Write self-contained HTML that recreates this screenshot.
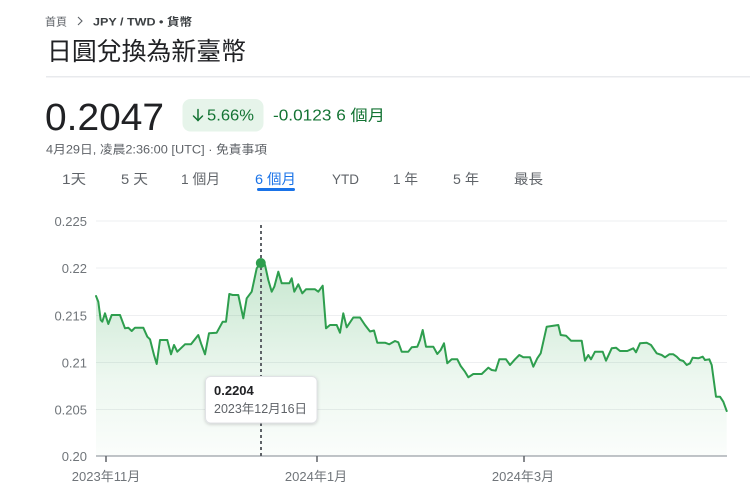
<!DOCTYPE html>
<html>
<head>
<meta charset="utf-8">
<style>
html,body{margin:0;padding:0;background:#fff;}
svg{display:block;}
text{font-family:"Liberation Sans","Noto Sans CJK TC",sans-serif;}
</style>
</head>
<body>
<svg width="750" height="500" viewBox="0 0 750 500" xmlns="http://www.w3.org/2000/svg">
  <defs>
    <linearGradient id="fg" x1="0" y1="262" x2="0" y2="456" gradientUnits="userSpaceOnUse">
      <stop offset="0" stop-color="#34a853" stop-opacity="0.28"/>
      <stop offset="0.6" stop-color="#34a853" stop-opacity="0.09"/>
      <stop offset="1" stop-color="#34a853" stop-opacity="0.02"/>
    </linearGradient>
    <filter id="sh" x="-20%" y="-30%" width="140%" height="170%">
      <feDropShadow dx="0" dy="1" stdDeviation="1.5" flood-color="#000" flood-opacity="0.18"/>
    </filter>
  </defs>

  <!-- breadcrumb -->
  <text x="45" y="25.5" font-size="11" fill="#5f6368">首頁</text>
  <polyline points="78,17 82,21 78,25" fill="none" stroke="#5f6368" stroke-width="1.1"/>
  <text x="93" y="25.5" font-size="11" fill="#3c4043" font-weight="bold" textLength="99" lengthAdjust="spacingAndGlyphs">JPY / TWD • 貨幣</text>

  <!-- title -->
  <text x="47" y="60" font-size="25" fill="#202124" textLength="199" lengthAdjust="spacingAndGlyphs">日圓兌換為新臺幣</text>

  <!-- divider -->
  <rect x="46" y="76" width="704" height="1.5" fill="#e8eaed"/>

  <!-- price -->
  <text x="45" y="130" font-size="38" fill="#202124" textLength="119" lengthAdjust="spacingAndGlyphs">0.2047</text>

  <!-- badge -->
  <rect x="182.5" y="99" width="81" height="32.5" rx="8" fill="#e6f4ea"/>
  <g stroke="#137333" stroke-width="1.5" fill="none" stroke-linecap="round">
    <line x1="198" y1="109.5" x2="198" y2="120.5"/>
    <polyline points="193.5,116 198,120.5 202.5,116"/>
  </g>
  <text x="207" y="120.7" font-size="15.5" fill="#137333" textLength="47" lengthAdjust="spacingAndGlyphs">5.66%</text>
  <text x="273" y="120.7" font-size="15.5" fill="#137333" textLength="112" lengthAdjust="spacingAndGlyphs">-0.0123 6 個月</text>

  <!-- timestamp -->
  <text x="46" y="153.5" font-size="12" fill="#5f6368" textLength="221" lengthAdjust="spacingAndGlyphs">4月29日, 凌晨2:36:00 [UTC] · 免責事項</text>

  <!-- tabs -->
  <g font-size="14" fill="#5f6368">
    <text x="62" y="184" textLength="24" lengthAdjust="spacingAndGlyphs">1天</text>
    <text x="121" y="184" textLength="27" lengthAdjust="spacingAndGlyphs">5 天</text>
    <text x="181" y="184" textLength="39" lengthAdjust="spacingAndGlyphs">1 個月</text>
    <text x="255" y="184" fill="#1a73e8" textLength="41" lengthAdjust="spacingAndGlyphs">6 個月</text>
    <text x="332" y="184" textLength="27" lengthAdjust="spacingAndGlyphs">YTD</text>
    <text x="393" y="184" textLength="25" lengthAdjust="spacingAndGlyphs">1 年</text>
    <text x="453" y="184" textLength="26" lengthAdjust="spacingAndGlyphs">5 年</text>
    <text x="514" y="184" textLength="29" lengthAdjust="spacingAndGlyphs">最長</text>
  </g>
  <rect x="257" y="188" width="38" height="3" rx="1.5" fill="#1a73e8"/>

  <!-- gridlines -->
  <g stroke="#eeeff1" stroke-width="1">
    <line x1="96" y1="221" x2="727" y2="221"/>
    <line x1="96" y1="268" x2="727" y2="268"/>
    <line x1="96" y1="315.5" x2="727" y2="315.5"/>
    <line x1="96" y1="362.5" x2="727" y2="362.5"/>
    <line x1="96" y1="409.5" x2="727" y2="409.5"/>
  </g>

  <!-- y labels -->
  <g font-size="13" fill="#70757a" text-anchor="end">
    <text x="87" y="225.8">0.225</text>
    <text x="87" y="272.8">0.22</text>
    <text x="87" y="320.3">0.215</text>
    <text x="87" y="367.3">0.21</text>
    <text x="87" y="414.3">0.205</text>
    <text x="87" y="460.8">0.20</text>
  </g>

  <!-- area fill -->
  <polygon fill="url(#fg)" points="96,296 98.3,301.7 100.7,320 102.3,321.7 105,313.3 108.3,324 111.7,315 120,315 125,328.3 128.3,327.7 131.7,331 135,327.7 143.3,327.7 147.3,336.7 150,339.3 154,355 156.7,364 160,340 167.3,340 171,354.3 174,345 177.3,351.7 185,344.3 191,344.3 198.3,335 201,343.3 205,354.3 209,333.3 216.7,332.7 222.7,321.7 226,321.7 229.3,294 232.7,295 238.3,295 243.3,318.3 246.7,298.3 251.7,291.7 256.7,268.3 260.7,262.7 265,265 268.3,280 271.7,291.7 274.3,286.7 278.3,271.7 281.7,283.3 289.3,283.3 291.7,278.3 294.3,291.7 298.3,284.3 302.3,293.3 306,289.3 315,289.3 318.3,291.7 322.7,285.7 326,328.3 330,325 336.7,325 340,332.7 343.3,313.3 346.7,327.3 353.3,317.5 360,317.5 365,325 370,331.5 374,330.5 377.3,342.7 385,342.7 389.3,344.3 395,341 398.3,342.3 401.7,351.7 408.3,351.7 411.7,347.3 417.3,346.7 420,340 422.7,330 426,346.7 433.3,346.7 437.3,354 440.7,350 444,343.3 447.3,363.3 451.7,359.3 457.3,359.3 460.7,366 465,371.7 468.3,377.3 473.3,374 481.7,374 488.3,367.7 491.7,370 495.7,370.7 499.3,359.3 506,359.3 510,365 515,359.3 519.3,355 523.3,357.3 530,357.3 533.3,366.7 537.3,358.3 540.7,353.3 546.7,326.7 551.7,326 558.3,325 560.7,335 566,335.7 571,340.7 581.7,340.7 585,360.7 588.3,355 591,359.3 595,351.7 602.7,351.7 606,360.7 611.7,348.3 616,347.7 620,351 627.3,351 633.3,348.3 636,352.3 640,343.3 646.7,342.7 651,345 656.7,353.3 661.7,355 665,357.3 669.3,354.3 673.3,354.3 676.7,356.7 680,360 683.3,361 686.7,365 690,363.3 692.7,357.7 698.3,358.3 702.7,356.7 705,360 709.3,359.3 711.7,365 716,396.7 720,396.7 723.3,401.7 726.7,411 726.7,456 96,456"/>

  <!-- axis -->
  <line x1="96" y1="456" x2="727" y2="456" stroke="#9aa0a6" stroke-width="1.2"/>
  <g stroke="#5f6368" stroke-width="1.5">
    <line x1="106" y1="456" x2="106" y2="462"/>
    <line x1="317" y1="456" x2="317" y2="462"/>
    <line x1="524" y1="456" x2="524" y2="462"/>
  </g>
  <g font-size="13" fill="#70757a" text-anchor="middle">
    <text x="106" y="481">2023年11月</text>
    <text x="316" y="481">2024年1月</text>
    <text x="523" y="481">2024年3月</text>
  </g>

  <!-- dashed cursor -->
  <line x1="261" y1="225" x2="261" y2="456" stroke="#5f6368" stroke-width="2" stroke-dasharray="3,3"/>

  <!-- line -->
  <polyline fill="none" stroke="#2e9e4e" stroke-width="2" stroke-linejoin="round" stroke-linecap="round" points="96,296 98.3,301.7 100.7,320 102.3,321.7 105,313.3 108.3,324 111.7,315 120,315 125,328.3 128.3,327.7 131.7,331 135,327.7 143.3,327.7 147.3,336.7 150,339.3 154,355 156.7,364 160,340 167.3,340 171,354.3 174,345 177.3,351.7 185,344.3 191,344.3 198.3,335 201,343.3 205,354.3 209,333.3 216.7,332.7 222.7,321.7 226,321.7 229.3,294 232.7,295 238.3,295 243.3,318.3 246.7,298.3 251.7,291.7 256.7,268.3 260.7,262.7 265,265 268.3,280 271.7,291.7 274.3,286.7 278.3,271.7 281.7,283.3 289.3,283.3 291.7,278.3 294.3,291.7 298.3,284.3 302.3,293.3 306,289.3 315,289.3 318.3,291.7 322.7,285.7 326,328.3 330,325 336.7,325 340,332.7 343.3,313.3 346.7,327.3 353.3,317.5 360,317.5 365,325 370,331.5 374,330.5 377.3,342.7 385,342.7 389.3,344.3 395,341 398.3,342.3 401.7,351.7 408.3,351.7 411.7,347.3 417.3,346.7 420,340 422.7,330 426,346.7 433.3,346.7 437.3,354 440.7,350 444,343.3 447.3,363.3 451.7,359.3 457.3,359.3 460.7,366 465,371.7 468.3,377.3 473.3,374 481.7,374 488.3,367.7 491.7,370 495.7,370.7 499.3,359.3 506,359.3 510,365 515,359.3 519.3,355 523.3,357.3 530,357.3 533.3,366.7 537.3,358.3 540.7,353.3 546.7,326.7 551.7,326 558.3,325 560.7,335 566,335.7 571,340.7 581.7,340.7 585,360.7 588.3,355 591,359.3 595,351.7 602.7,351.7 606,360.7 611.7,348.3 616,347.7 620,351 627.3,351 633.3,348.3 636,352.3 640,343.3 646.7,342.7 651,345 656.7,353.3 661.7,355 665,357.3 669.3,354.3 673.3,354.3 676.7,356.7 680,360 683.3,361 686.7,365 690,363.3 692.7,357.7 698.3,358.3 702.7,356.7 705,360 709.3,359.3 711.7,365 716,396.7 720,396.7 723.3,401.7 726.7,411"/>

  <!-- peak marker -->
  <circle cx="260.8" cy="263" r="5" fill="#2e9e4e"/>

  <!-- tooltip -->
  <rect x="205.5" y="376.5" width="111.5" height="46.5" rx="5" fill="#fff" stroke="#e0e2e5" stroke-width="1" filter="url(#sh)"/>
  <text x="214" y="395" font-size="13" font-weight="bold" fill="#202124">0.2204</text>
  <text x="214" y="413" font-size="12.5" fill="#5f6368" textLength="93" lengthAdjust="spacingAndGlyphs">2023年12月16日</text>
</svg>
</body>
</html>
